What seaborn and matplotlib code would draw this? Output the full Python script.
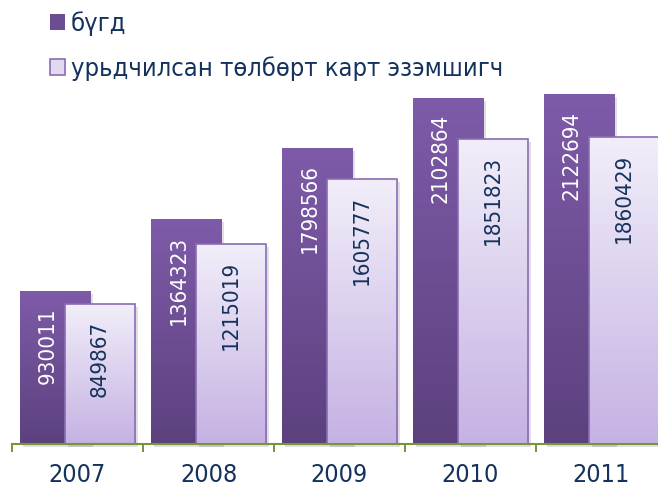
import numpy as np
import pandas as pd
import matplotlib
matplotlib.use("Agg")
import matplotlib.pyplot as plt
from matplotlib.colors import LinearSegmentedColormap
from matplotlib.patches import Rectangle
import matplotlib.transforms as mtransforms
import seaborn as sns

# data
years = ["2007", "2008", "2009", "2010", "2011"]
total = [930011, 1364323, 1798566, 2102864, 2122694]
prepaid = [849867, 1215019, 1605777, 1851823, 1860429]
series_names = ["бүгд", "урьдчилсан төлбөрт карт эзэмшигч"]

df = pd.DataFrame({
    "year": years * 2,
    "value": total + prepaid,
    "series": [series_names[0]] * len(years) + [series_names[1]] * len(years),
})

sns.set_style("white")
plt.rcParams["font.family"] = ["DejaVu Sans"]
plt.rcParams["font.stretch"] = "condensed"

navy = "#14325c"
green = "#77933c"
dark_top, dark_bot = "#7e5ba9", "#5c417e"
light_top, light_bot = "#f2eef9", "#c5b2e3"
light_edge = "#8a6cb4"

fig = plt.figure(figsize=(6.58, 4.88), dpi=100)
ax = fig.add_axes([12 / 658, 44 / 488, 655 / 658, 444 / 488])

sns.barplot(data=df, x="year", y="value", hue="series", order=years,
            hue_order=series_names, width=0.69, palette=[dark_bot, light_bot],
            errorbar=None, legend=False, ax=ax)

# widen bars so the second series overlaps the first, fill with gradients
bar_w = 0.535
cmaps = [LinearSegmentedColormap.from_list("dark", [dark_bot, dark_top]),
         LinearSegmentedColormap.from_list("light", [light_bot, light_top])]
grad = np.linspace(0, 1, 256).reshape(-1, 1)
shadow_tr = mtransforms.offset_copy(ax.transData, fig=fig, x=3, y=-3, units="dots")
vals = [total, prepaid]
label_colors = ["white", navy]
label_dx = [-5, 0]

for k, cont in enumerate(ax.containers):
    for bar, v in zip(cont, vals[k]):
        cx = bar.get_x() + bar.get_width() / 2
        bar.set_x(cx - bar_w / 2)
        bar.set_width(bar_w)
        x0, h = bar.get_x(), bar.get_height()
        z = 2 + 3 * k
        ax.add_patch(Rectangle((x0, 0), bar_w, h, transform=shadow_tr,
                               facecolor="black", alpha=0.12, edgecolor="none",
                               zorder=z, clip_on=False))
        im = ax.imshow(grad, cmap=cmaps[k], origin="lower", aspect="auto",
                       extent=[x0, x0 + bar_w, 0, h], zorder=z + 1)
        im.set_clip_path(bar)
        bar.set_facecolor("none")
        bar.set_zorder(z + 2)
        if k == 1:
            bar.set_edgecolor(light_edge)
            bar.set_linewidth(1.2)
        else:
            bar.set_edgecolor("none")
        ax.annotate(str(v), (cx, h), xytext=(label_dx[k], -12),
                    textcoords="offset points", rotation=90, ha="center",
                    va="top", fontsize=16, color=label_colors[k], zorder=20)

ax.set_xlim(-0.5, len(years) - 0.5)
ax.set_ylim(0, 2.695e6)
ax.set_yticks([])
ax.set_xlabel("")
ax.set_ylabel("")
sns.despine(ax=ax, left=True, top=True, right=True)
ax.spines["bottom"].set_color(green)
ax.spines["bottom"].set_linewidth(1.5)
ax.spines["bottom"].set_zorder(15)
ax.set_xticks(np.arange(-0.5, len(years), 1), minor=True)
ax.tick_params(axis="x", which="minor", bottom=True, length=6, width=1.4,
               color=green, direction="out")
ax.tick_params(axis="x", which="major", bottom=True, length=0, pad=14,
               labelsize=18, labelcolor=navy)

handles = [Rectangle((0, 0), 1, 1, facecolor="#6b4d93", edgecolor="none"),
           Rectangle((0, 0), 1, 1, facecolor="#e2d9f1", edgecolor=light_edge,
                     linewidth=1.2)]
fig.legend(handles, series_names, loc="upper left",
           bbox_to_anchor=(50 / 658, 1 - 11 / 488), frameon=False,
           fontsize=18.3, handlelength=0.59, handleheight=0.59,
           handletextpad=0.22, labelspacing=0.82, borderpad=0,
           borderaxespad=0, labelcolor=navy)

fig.savefig("out.png", dpi=100)
